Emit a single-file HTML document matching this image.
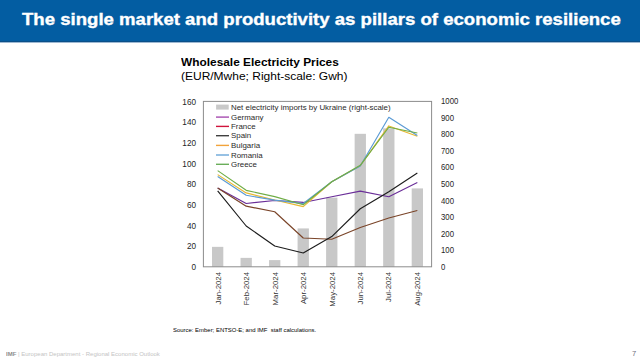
<!DOCTYPE html>
<html><head><meta charset="utf-8">
<style>
html,body{margin:0;padding:0;}
body{width:640px;height:360px;position:relative;overflow:hidden;background:#fff;font-family:"Liberation Sans",sans-serif;}
.hdr{position:absolute;left:0;top:0;width:640px;height:41px;background:#035DA2;border-bottom:1px solid #0A5088;}
.hline{position:absolute;left:0;top:42px;width:640px;height:1px;background:#9DB8D2;}
.t{position:absolute;white-space:nowrap;line-height:1.15;transform-origin:0 0;}
#title{-webkit-text-stroke:0.35px #fff;}
svg{position:absolute;left:0;top:0;}
.yl{position:absolute;left:160px;width:36px;text-align:right;font-size:8.2px;line-height:10px;color:#262626;}
.yr{position:absolute;left:440.5px;font-size:8.2px;line-height:10px;color:#262626;transform:scaleX(0.95);transform-origin:0 0;}
.xl{position:absolute;top:272px;font-size:7.8px;line-height:8px;color:#333;white-space:nowrap;transform-origin:0 0;transform:rotate(-90deg) translate(-100%,-50%);}
.lt{position:absolute;left:230.5px;font-size:7.8px;line-height:10px;color:#2a2a2a;white-space:nowrap;transform:scaleX(1.015);transform-origin:0 0;}
.pg{position:absolute;left:632px;top:349.1px;font-size:7.6px;color:#707080;}
</style></head><body>
<div class="hdr"></div><div class="hline"></div>
<svg width="640" height="360" viewBox="0 0 640 360">
<rect x="212.01" y="246.85" width="11.3" height="19.95" fill="#C8C8C8"/>
<rect x="240.54" y="257.87" width="11.3" height="8.93" fill="#C8C8C8"/>
<rect x="269.06" y="260.10" width="11.3" height="6.70" fill="#C8C8C8"/>
<rect x="297.59" y="228.43" width="11.3" height="38.37" fill="#C8C8C8"/>
<rect x="326.11" y="197.66" width="11.3" height="69.14" fill="#C8C8C8"/>
<rect x="354.64" y="133.82" width="11.3" height="132.98" fill="#C8C8C8"/>
<rect x="383.16" y="128.36" width="11.3" height="138.44" fill="#C8C8C8"/>
<rect x="411.69" y="188.40" width="11.3" height="78.40" fill="#C8C8C8"/>
<rect x="203.4" y="101.4" width="228.20" height="165.40" fill="none" stroke="#8C8C8C" stroke-width="1"/>
<rect x="216.1" y="104.6" width="12.6" height="5" fill="#C9C9C9"/>
<line x1="216" y1="117.1" x2="229" y2="117.1" stroke="#A64CB0" stroke-width="1.4"/>
<line x1="216" y1="126.4" x2="229" y2="126.4" stroke="#D0143C" stroke-width="1.4"/>
<line x1="216" y1="135.7" x2="229" y2="135.7" stroke="#404040" stroke-width="1.4"/>
<line x1="216" y1="145.4" x2="229" y2="145.4" stroke="#F2A33A" stroke-width="1.4"/>
<line x1="216" y1="155.0" x2="229" y2="155.0" stroke="#6AA6D8" stroke-width="1.4"/>
<line x1="216" y1="164.3" x2="229" y2="164.3" stroke="#6AAE5A" stroke-width="1.4"/>
<polyline transform="translate(0,0.35)" points="217.66,187.72 246.19,203.12 274.71,200.12 303.24,202.09 331.76,196.40 360.29,190.82 388.81,196.40 417.34,182.14" fill="none" stroke="#6A2E98" stroke-width="1.15" stroke-linejoin="round"/>
<polyline transform="translate(0,0.35)" points="217.66,187.72 246.19,205.81 274.71,211.39 303.24,237.65 331.76,238.89 360.29,227.10 388.81,217.59 417.34,210.15" fill="none" stroke="#7A4428" stroke-width="1.15" stroke-linejoin="round"/>
<polyline transform="translate(0,0.35)" points="217.66,190.61 246.19,225.66 274.71,245.61 303.24,252.64 331.76,236.20 360.29,208.39 388.81,191.34 417.34,172.63" fill="none" stroke="#1C1C1C" stroke-width="1.15" stroke-linejoin="round"/>
<polyline transform="translate(0,0.35)" points="217.66,174.28 246.19,192.58 274.71,199.61 303.24,206.33 331.76,181.41 360.29,165.29 388.81,125.59 417.34,135.93" fill="none" stroke="#E8B830" stroke-width="1.15" stroke-linejoin="round"/>
<polyline transform="translate(0,0.35)" points="217.66,176.24 246.19,194.95 274.71,199.81 303.24,203.22 331.76,181.41 360.29,165.60 388.81,116.91 417.34,135.10" fill="none" stroke="#5B9BD5" stroke-width="1.15" stroke-linejoin="round"/>
<polyline transform="translate(0,0.35)" points="217.66,170.25 246.19,189.99 274.71,196.30 303.24,204.46 331.76,181.41 360.29,164.98 388.81,126.93 417.34,132.62" fill="none" stroke="#70AD47" stroke-width="1.15" stroke-linejoin="round"/>
</svg>
<div id="title" class="t" style="left:21.5px;top:9.5px;font-size:16.3px;transform:scaleX(1.141);font-weight:bold;color:#fff">The single market and productivity as pillars of economic resilience</div>
<div id="ct" class="t" style="left:181.3px;top:57px;font-size:10px;transform:scaleX(1.188);font-weight:bold;color:#000">Wholesale Electricity Prices</div>
<div id="cs" class="t" style="left:181px;top:69.5px;font-size:10.8px;transform:scaleX(1.11);font-weight:normal;color:#000">(EUR/Mwhe; Right-scale: Gwh)</div>
<div id="src" class="t" style="left:173px;top:327px;font-size:6px;transform:scaleX(0.99);font-weight:normal;color:#000">Source: Ember; ENTSO-E; and IMF&nbsp; staff calculations.</div>
<div id="ftr" class="t" style="left:5.5px;top:350.5px;font-size:5.9px;transform:scaleX(1.02);font-weight:normal;color:#C4C4C4"><b style="color:#8C8C8C">IMF</b> | European Department - Regional Economic Outlook</div>
<div class="yl" style="top:263.10px">0</div><div class="yl" style="top:242.43px">20</div><div class="yl" style="top:221.75px">40</div><div class="yl" style="top:201.08px">60</div><div class="yl" style="top:180.40px">80</div><div class="yl" style="top:159.73px">100</div><div class="yl" style="top:139.05px">120</div><div class="yl" style="top:118.38px">140</div><div class="yl" style="top:97.70px">160</div>
<div class="yr" style="top:262.70px">0</div><div class="yr" style="top:246.16px">100</div><div class="yr" style="top:229.62px">200</div><div class="yr" style="top:213.08px">300</div><div class="yr" style="top:196.54px">400</div><div class="yr" style="top:180.00px">500</div><div class="yr" style="top:163.46px">600</div><div class="yr" style="top:146.92px">700</div><div class="yr" style="top:130.38px">800</div><div class="yr" style="top:113.84px">900</div><div class="yr" style="top:97.30px">1000</div>
<div class="xl" style="left:218.86px">Jan-2024</div><div class="xl" style="left:247.29px">Feb-2024</div><div class="xl" style="left:275.71px">Mar-2024</div><div class="xl" style="left:304.14px">Apr-2024</div><div class="xl" style="left:332.56px">May-2024</div><div class="xl" style="left:360.99px">Jun-2024</div><div class="xl" style="left:389.41px">Jul-2024</div><div class="xl" style="left:417.84px">Aug-2024</div>
<div class="lt" id="lt0" style="top:103.1px">Net electricity imports by Ukraine (right-scale)</div>
<div class="lt" style="top:112.70px">Germany</div><div class="lt" style="top:122.00px">France</div><div class="lt" style="top:131.30px">Spain</div><div class="lt" style="top:141.00px">Bulgaria</div><div class="lt" style="top:150.60px">Romania</div><div class="lt" style="top:159.90px">Greece</div>
<div class="pg">7</div>
</body></html>
